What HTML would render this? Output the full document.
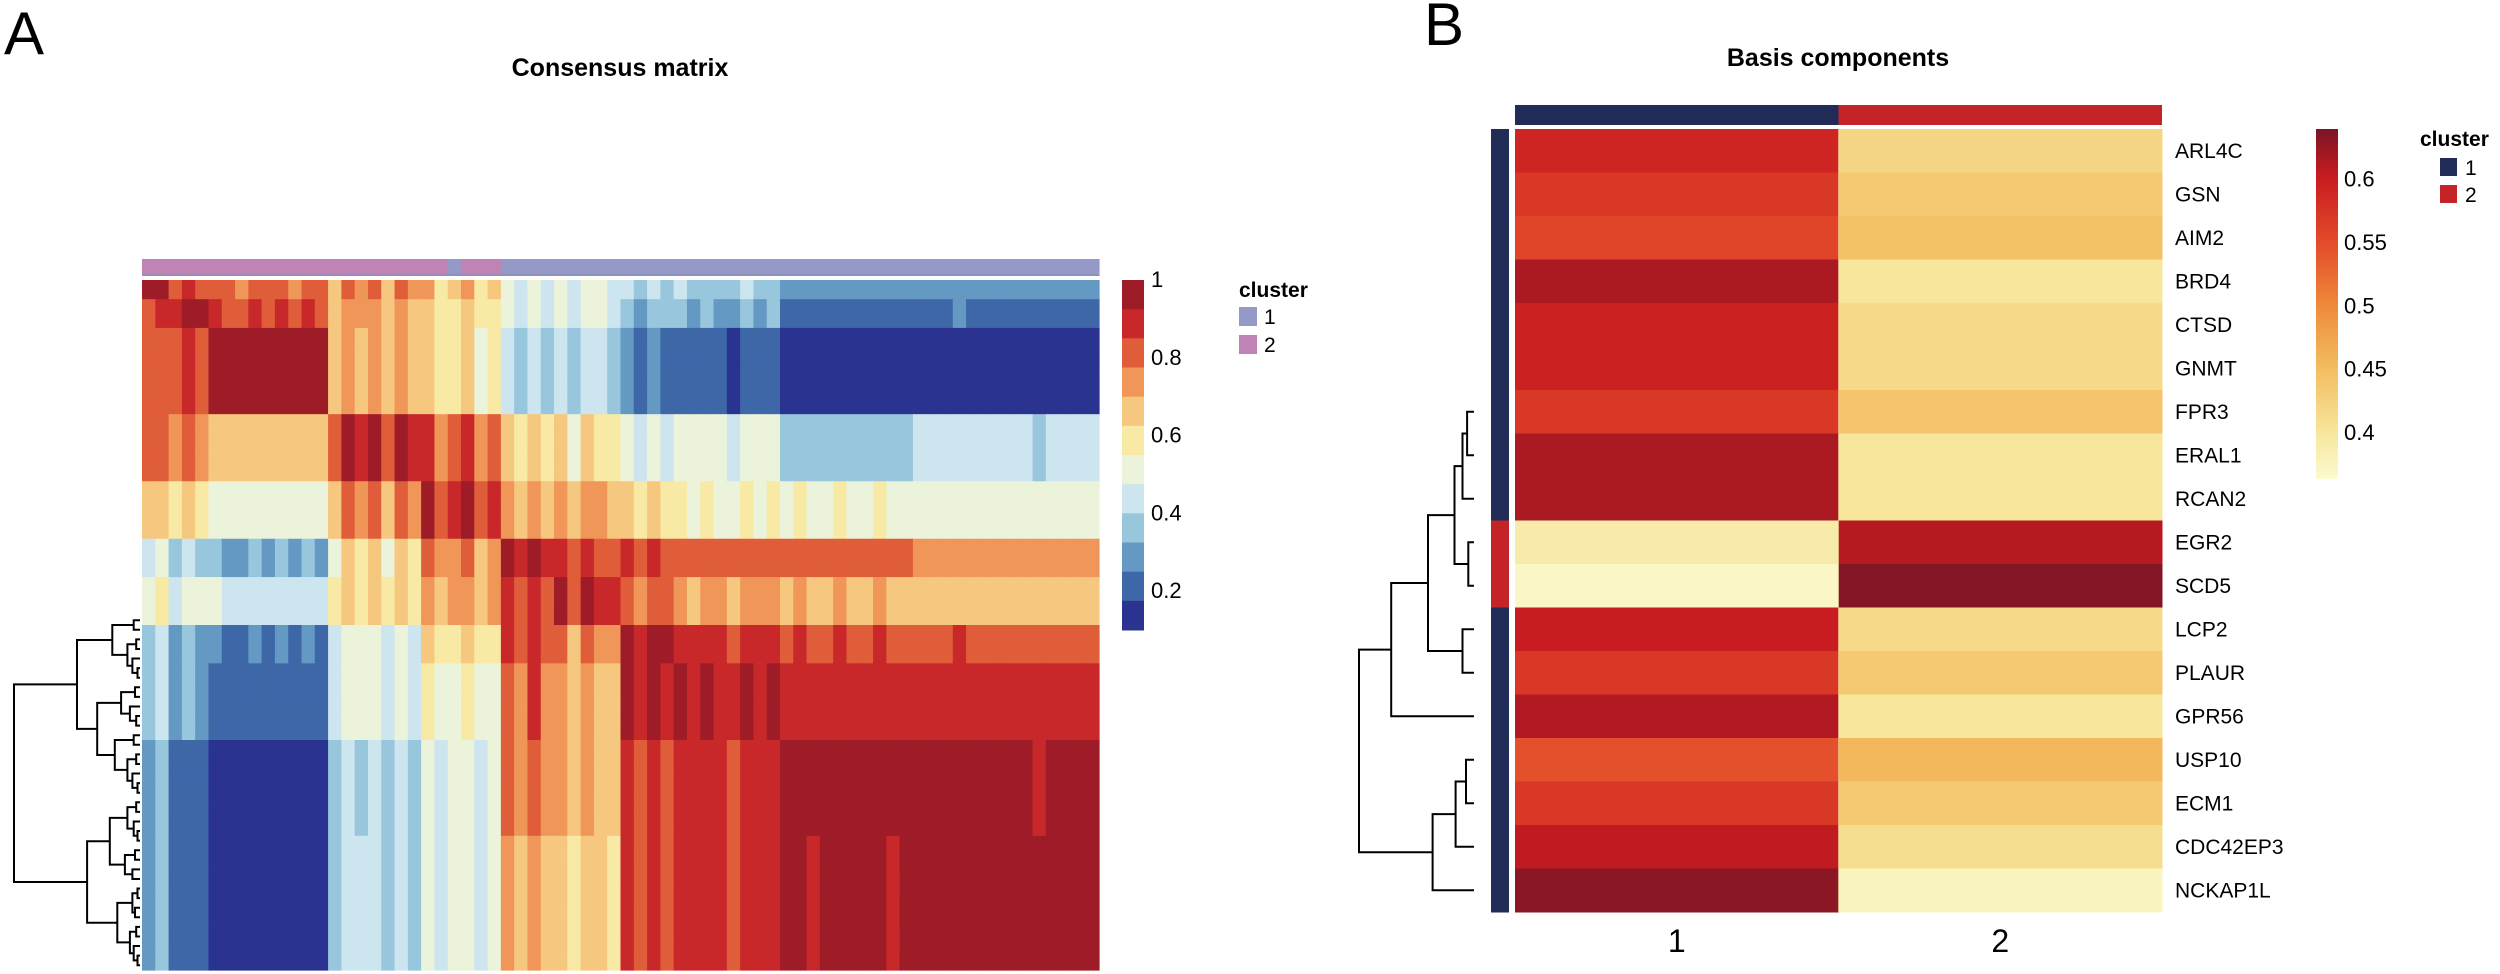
<!DOCTYPE html>
<html><head><meta charset="utf-8"><title>Consensus matrix and basis components</title>
<style>
html,body{margin:0;padding:0;background:#fff;}
svg{display:block;font-family:"Liberation Sans",Arial,sans-serif;}
</style></head>
<body>
<svg id="fig" width="2500" height="974" viewBox="0 0 2500 974" xmlns="http://www.w3.org/2000/svg">
  <rect width="2500" height="974" fill="#fff"/>
  <text x="4" y="54" font-size="60">A</text>
  <text x="620" y="76" font-size="25" font-weight="bold" text-anchor="middle">Consensus matrix</text>
  <g id="aAnno"></g>
  <g id="aHeat"></g>
  <g id="aDend" stroke="#000" stroke-width="2" fill="none"></g>
  <g id="aBar"></g>
  <g>
    <text x="1239" y="297" font-size="21" font-weight="bold">cluster</text>
    <rect x="1239" y="307" width="18" height="19" fill="#9599c8"/>
    <text x="1264" y="324" font-size="21">1</text>
    <rect x="1239" y="335" width="18" height="19" fill="#bf83b5"/>
    <text x="1264" y="352" font-size="21">2</text>
  </g>

  <text x="1424" y="45" font-size="60">B</text>
  <text x="1838" y="66" font-size="25" font-weight="bold" text-anchor="middle">Basis components</text>
  <g id="bHeat"></g>
  <g id="bDend" stroke="#000" stroke-width="2" fill="none"></g>
  <g id="bBar"></g>
  <g>
    <text x="2420" y="146" font-size="21" font-weight="bold">cluster</text>
    <rect x="2440" y="158" width="17" height="18" fill="#202b58"/>
    <text x="2465" y="175" font-size="21">1</text>
    <rect x="2440" y="185" width="17" height="18" fill="#c42428"/>
    <text x="2465" y="202" font-size="21">2</text>
  </g>
</svg>
<script>
// ---------- Panel A data ----------
const aGroupSizes = [2,3,9,7,6,4,5,4,8,10,14];
const aBlockValues = [
 [0.93,0.85,0.78,0.75,0.65,0.50,0.50,0.40,0.38,0.30,0.28],
 [0.85,0.93,0.85,0.72,0.62,0.45,0.50,0.35,0.32,0.20,0.25],
 [0.78,0.85,0.95,0.68,0.60,0.40,0.42,0.25,0.20,0.10,0.12],
 [0.80,0.75,0.65,0.90,0.80,0.60,0.60,0.45,0.50,0.38,0.42],
 [0.65,0.60,0.52,0.75,0.88,0.72,0.72,0.60,0.55,0.55,0.50],
 [0.45,0.40,0.32,0.60,0.75,0.90,0.85,0.85,0.82,0.80,0.75],
 [0.55,0.50,0.45,0.62,0.72,0.82,0.90,0.80,0.72,0.70,0.65],
 [0.40,0.30,0.25,0.50,0.62,0.82,0.75,0.93,0.88,0.85,0.85],
 [0.38,0.30,0.22,0.48,0.55,0.80,0.70,0.90,0.92,0.90,0.88],
 [0.30,0.22,0.12,0.40,0.50,0.75,0.68,0.85,0.88,0.95,0.93],
 [0.30,0.22,0.12,0.42,0.50,0.72,0.65,0.85,0.88,0.93,0.95]
];
const aColumnOffsets = [0,0.04,-0.03,0.03,0,0.03,0,-0.02,0.02,0,0.02,-0.02,0.02,0,
 -0.05,0.05,0,0.05,-0.05,0.03,-0.03,0.05,-0.04,0,0.05,-0.05,0,0.04,-0.04,0.05,-0.03,0.03,-0.05,0.04,0,-0.04,
 0.03,-0.03,0.04,0,0.03,-0.02,0.02,0,-0.03,0.03,0,0.02,0,0.02,-0.02,0,0.02,0,0,0.02,-0.02,0,
 0,0,0,0.02,0,0,0,0,0,-0.02,0,0,0,0];
const aSampleClusters = [2,2,2,2,2,2,2,2,2,2,2,2,2,2,2,2,2,2,2,2,2,2,2,1,2,2,2,
 1,1,1,1,1,1,1,1,1,1,1,1,1,1,1,1,1,1,1,1,1,1,1,1,1,1,1,1,1,1,1,1,1,1,1,1,1,1,1,1,1,1,1,1,1,1];
const aTicks = [1,0.8,0.6,0.4,0.2];
const aDendTree = [1.0,
  [0.5,[0.22,[0.05,35,36],[0.1,[0.03,37,38],[0.06,39,[0.02,40,41]]]],[0.34,[0.15,[0.04,42,43],[0.08,44,[0.03,45,46]]],[0.2,[0.05,47,48],[0.1,[0.03,49,50],[0.06,51,[0.02,52,53]]]]]],
  [0.42,[0.24,[0.1,[0.03,54,55],[0.05,56,[0.02,57,58]]],[0.12,[0.04,59,60],[0.06,61,62]]],[0.18,[0.06,[0.02,63,64],[0.04,65,66]],[0.08,[0.03,67,68],[0.05,69,[0.02,70,71]]]]]
];
// ---------- Panel B data ----------
const bGenes = ["ARL4C","GSN","AIM2","BRD4","CTSD","GNMT","FPR3","ERAL1","RCAN2","EGR2","SCD5","LCP2","PLAUR","GPR56","USP10","ECM1","CDC42EP3","NCKAP1L"];
const bComp1 = [0.59,0.57,0.555,0.615,0.595,0.595,0.57,0.615,0.615,0.39,0.37,0.60,0.57,0.612,0.545,0.57,0.605,0.63];
const bComp2 = [0.42,0.435,0.445,0.40,0.415,0.415,0.44,0.40,0.40,0.61,0.635,0.415,0.435,0.40,0.455,0.435,0.41,0.375];
const bGeneClusters = [1,1,1,1,1,1,1,1,1,2,2,1,1,1,1,1,1,1];
const bColumns = ["1","2"];
const bTicks = [0.6,0.55,0.5,0.45,0.4];
const chain0 = [0,[0,[0,[0,[0,[0,0,1],2],3],4],5],6];
const bDendTree = [1.0,
  [0.72,[0.4,[0.17,[0.1,[0.06,chain0,7],8],[0.05,9,10]],[0.1,11,12]],13],
  [0.36,[0.16,[0.07,14,15],16],17]
];

const NS = "http://www.w3.org/2000/svg";
function mk(tag, attrs, parent){
  const e = document.createElementNS(NS, tag);
  for (const k in attrs) e.setAttribute(k, attrs[k]);
  parent.appendChild(e);
  return e;
}
// ---------- Panel A ----------
const aColors = ["#9e1c27","#c8282a","#e05d3a","#f09658","#f6c77e","#f8eaa5","#ebf3da","#cde5ef","#98c6dd","#6399c3","#3e67a8","#2b3390"];
const AX0=142, AX1=1099, AY0=280, AY1=970;
const aN = aGroupSizes.reduce((a,b)=>a+b,0);
const aCW = (AX1-AX0)/aN, aCH = (AY1-AY0)/aN;
const aGroupOf = [];
aGroupSizes.forEach((s,g)=>{ for(let k=0;k<s;k++) aGroupOf.push(g); });
function aBin(v){ let b = Math.floor((1-v)/0.075); return Math.max(0, Math.min(11, b)); }
const aHeat = document.getElementById('aHeat');
for (let i=0;i<aN;i++){
  for (let j=0;j<aN;j++){
    const v = aBlockValues[aGroupOf[i]][aGroupOf[j]] + aColumnOffsets[j];
    const r = mk('rect',{x:(AX0+j*aCW).toFixed(2), y:(AY0+i*aCH).toFixed(2), width:(aCW+0.6).toFixed(2), height:(aCH+0.6).toFixed(2), fill:aColors[aBin(v)]}, aHeat);
    
    
  }
}
const aAnno = document.getElementById('aAnno');
for (let j=0;j<aN;j++){
  const r = mk('rect',{x:(AX0+j*aCW).toFixed(2), y:259, width:(aCW+0.6).toFixed(2), height:17, fill: aSampleClusters[j]===1 ? "#9599c8" : "#bf83b5"}, aAnno);
  
  
}
mk('rect',{x:AX0,y:274,width:AX1-AX0,height:2,fill:"#8a8fb0",opacity:0.6},aAnno);
// colorbar A
const aBar = document.getElementById('aBar');
const ABY0=280, ABY1=630, AVMAX=1, AVMIN=0.1;
function aBarY(v){ return ABY0 + (AVMAX-v)/(AVMAX-AVMIN)*(ABY1-ABY0); }
for (let b=0;b<12;b++){
  const r = mk('rect',{x:1122,y:(ABY0+b*(ABY1-ABY0)/12).toFixed(2),width:22,height:((ABY1-ABY0)/12+0.5).toFixed(2),fill:aColors[b]},aBar);
  
  
}
aTicks.forEach(t=>{
  const tx = mk('text',{x:1151,y:(aBarY(t)+7).toFixed(1),'font-size':22},aBar);
  tx.textContent = String(t);
  
  
});
// dendrogram drawing
function drawDend(tree, g, xLeaf, xRoot, rowY, name){
  function rec(node){
    if (typeof node === 'number') return {y: rowY(node), h: 0};
    const [h, a, b] = node;
    const A = rec(a), B = rec(b);
    if (h === 0) return {y: B.y, h: 0};
    const xn = xLeaf - h*(xLeaf-xRoot);
    const xa = xLeaf - A.h*(xLeaf-xRoot), xb = xLeaf - B.h*(xLeaf-xRoot);
    const p = mk('path',{d:`M${xa.toFixed(1)},${A.y.toFixed(1)}H${xn.toFixed(1)}V${B.y.toFixed(1)}H${xb.toFixed(1)}`},g);
    
    
    return {y:(A.y+B.y)/2, h:h};
  }
  rec(tree);
}
drawDend(aDendTree, document.getElementById('aDend'), 140, 14, i=>AY0+(i+0.5)*aCH, 'dendrogram-branch');

// ---------- Panel B ----------
const bStops = [[0.363,[252,250,208]],[0.40,[247,230,156]],[0.45,[243,189,96]],[0.50,[238,138,58]],[0.55,[227,74,42]],[0.60,[201,28,32]],[0.639,[122,21,37]]];
function bColor(v){
  if (v<=bStops[0][0]) return `rgb(${bStops[0][1].join(',')})`;
  for (let k=1;k<bStops.length;k++){
    if (v<=bStops[k][0]){
      const [v0,c0]=bStops[k-1],[v1,c1]=bStops[k]; const t=(v-v0)/(v1-v0);
      return `rgb(${c0.map((c,i)=>Math.round(c+(c1[i]-c)*t)).join(',')})`;
    }
  }
  return `rgb(${bStops[bStops.length-1][1].join(',')})`;
}
const BX0=1515, BX1=2162, BY0=129, BY1=912;
const bRows = bGenes.length, bCW=(BX1-BX0)/bColumns.length, bRH=(BY1-BY0)/bRows;
const bHeat = document.getElementById('bHeat');
const bSeries = [bComp1, bComp2];
bColumns.forEach((c,j)=>{
  const r = mk('rect',{x:BX0+j*bCW,y:105,width:bCW,height:20,fill: j===0?"#202b58":"#c42428"},bHeat);
  
  
  const t = mk('text',{x:BX0+(j+0.5)*bCW,y:952,'font-size':32,'text-anchor':'middle'},bHeat);
  t.textContent = c;
  
  
});
for (let i=0;i<bRows;i++){
  for (let j=0;j<bColumns.length;j++){
    const r = mk('rect',{x:(BX0+j*bCW).toFixed(2),y:(BY0+i*bRH).toFixed(2),width:(bCW+0.5).toFixed(2),height:(bRH+0.5).toFixed(2),fill:bColor(bSeries[j][i])},bHeat);
    
    
  }
  const a = mk('rect',{x:1491,y:(BY0+i*bRH).toFixed(2),width:18,height:(bRH+0.5).toFixed(2),fill:bGeneClusters[i]===1?"#202b58":"#c42428"},bHeat);
  
  
  const t = mk('text',{x:2175,y:(BY0+(i+0.5)*bRH+7).toFixed(1),'font-size':21},bHeat);
  t.textContent = bGenes[i];
  
  
}
mk('line',{x1:BX0+bCW,y1:BY0,x2:BX0+bCW,y2:BY1,stroke:"#f3d9a0","stroke-width":1,opacity:0.5},bHeat);
// colorbar B
const bBar = document.getElementById('bBar');
const BBY0=129, BBY1=479, BVMAX=0.639, BVMIN=0.363;
function bBarY(v){ return BBY0 + (BVMAX-v)/(BVMAX-BVMIN)*(BBY1-BBY0); }
const defs = mk('defs',{},document.getElementById('fig'));
const grad = mk('linearGradient',{id:'bGrad',x1:0,y1:0,x2:0,y2:1},defs);
for (let k=bStops.length-1;k>=0;k--){
  mk('stop',{offset:((BVMAX-bStops[k][0])/(BVMAX-BVMIN)).toFixed(3),'stop-color':`rgb(${bStops[k][1].join(',')})`},grad);
}
const gb = mk('rect',{x:2316,y:BBY0,width:22,height:BBY1-BBY0,fill:'url(#bGrad)'},bBar);


bTicks.forEach(t=>{
  const tx = mk('text',{x:2344,y:(bBarY(t)+8).toFixed(1),'font-size':22},bBar);
  tx.textContent = String(t);
  
  
});
drawDend(bDendTree, document.getElementById('bDend'), 1474, 1359, i=>BY0+(i+0.5)*bRH, 'dendrogram-branch');
</script>
</body></html>
